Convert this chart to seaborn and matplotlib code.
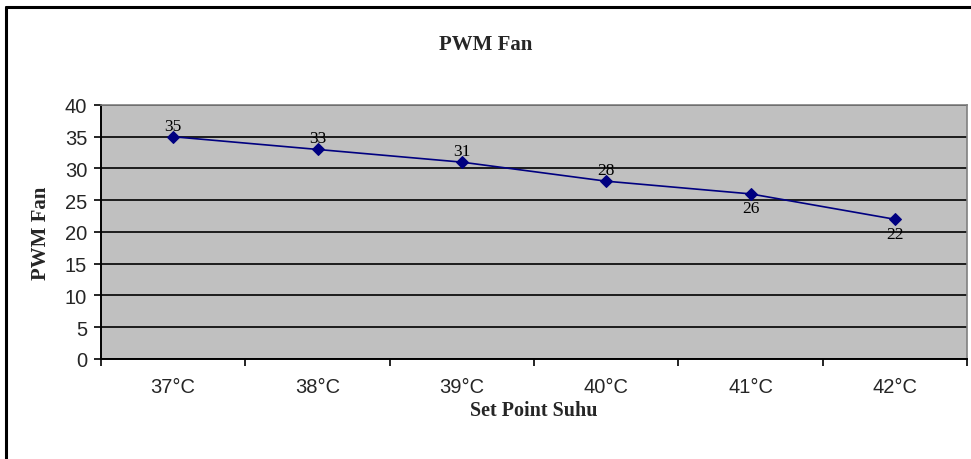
import pandas as pd
import matplotlib.pyplot as plt
import seaborn as sns
from matplotlib.ticker import FixedLocator

# Data
suhu = ['37°C', '38°C', '39°C', '40°C', '41°C', '42°C']
pwm = [35, 33, 31, 28, 26, 22]
label_above = [True, True, True, True, False, False]

df = pd.DataFrame({'suhu': suhu, 'pwm': pwm})

sns.set_style("white")
plt.rcParams['font.family'] = ['Liberation Sans', 'DejaVu Sans']

fig = plt.figure(figsize=(9.71, 4.6), dpi=100)
ax = fig.add_axes([0.104, 0.2174, 0.892, 0.5522])
ax.set_facecolor('#C0C0C0')

sns.lineplot(data=df, x='suhu', y='pwm', ax=ax, color='#000080', marker='D',
             markersize=6.5, markeredgecolor='#000080', linewidth=1.2, sort=False)

ax.set_xlim(-0.5, len(suhu) - 0.5)
ax.set_ylim(0, 40)
ax.set_yticks(range(0, 41, 5))
ax.grid(axis='y', color='black', linewidth=1.2)
ax.set_axisbelow(True)

# ticks between categories like Excel
ax.set_xticks(range(len(suhu)))
ax.set_xticklabels(suhu)
ax.xaxis.set_minor_locator(FixedLocator([i - 0.5 for i in range(len(suhu) + 1)]))
ax.tick_params(axis='x', which='major', bottom=True, length=0, pad=13, labelsize=14.5)
ax.tick_params(axis='x', which='minor', bottom=True, length=5, width=1.2, color='black', direction='out')
ax.tick_params(axis='y', left=True, length=5, width=1.2, color='black', direction='out', labelsize=14.5, pad=5)

for s in ['left', 'bottom']:
    ax.spines[s].set_color('black')
    ax.spines[s].set_linewidth(1.4)
for s in ['top', 'right']:
    ax.spines[s].set_color('#808080')
    ax.spines[s].set_linewidth(1.2)

# data labels
for i, (v, up) in enumerate(zip(pwm, label_above)):
    ax.annotate(str(v), (i, v), xytext=(0, 5 if up else -4.5), textcoords='offset points',
                ha='center', va='baseline' if up else 'top', fontsize=12.5,
                family='Liberation Serif', color='black')

ax.set_xlabel('Set Point Suhu', family='Liberation Serif', fontweight='bold', fontsize=14.5, labelpad=3)
ax.set_ylabel('PWM Fan', family='Liberation Serif', fontweight='bold', fontsize=15, labelpad=10)
fig.text(0.5, 0.902, 'PWM Fan', ha='center', va='center', family='Liberation Serif',
         fontweight='bold', fontsize=15)

# outer chart border (only top and left visible in the frame)
fig.add_artist(plt.Line2D([0.0065, 0.0065], [0, 0.983], color='black', linewidth=2.2,
                          transform=fig.transFigure))
fig.add_artist(plt.Line2D([0.0065, 1.0], [0.983, 0.983], color='black', linewidth=2.2,
                          transform=fig.transFigure))

plt.savefig('out.png', dpi=100)
